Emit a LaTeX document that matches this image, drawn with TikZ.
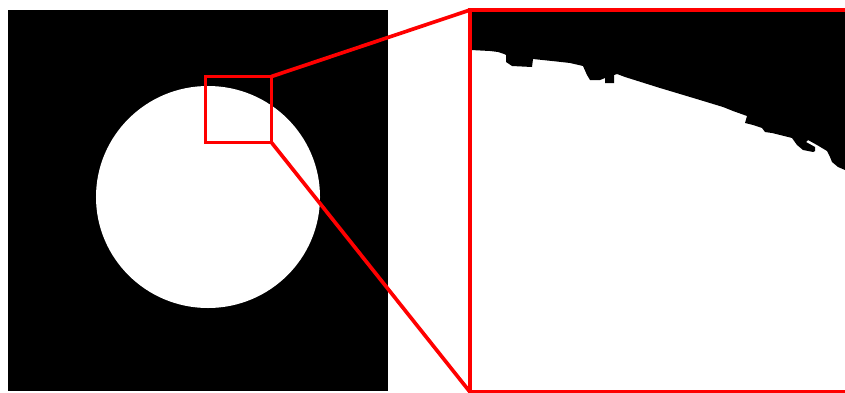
\documentclass[tikz,border=0pt]{standalone}
\usetikzlibrary{positioning,calc}
\definecolor{zoomred}{HTML}{FF0000}
\definecolor{ink}{HTML}{000000}
\tikzset{
  zoomline/.style={draw=zoomred,line width=0.11cm},
  framebox/.style={zoomline,inner sep=0pt,outer sep=0pt}
}

\begin{document}
\begin{tikzpicture}[x=0.03cm,y=-0.03cm]
  \useasboundingbox (0,0) rectangle (845,392);

  \fill[ink] (8,10) rectangle (388,391);
  \fill[white] (208,197) ellipse [x radius=3.36cm,y radius=3.33cm];

  \fill[ink] (852,10) -- (471,10) -- (471,50) -- (490,51) -- (498,52)
    -- (504,54) -- (506,55) -- (506,62) -- (512,66) -- (532,67) -- (533,59)
    -- (552,61) -- (570,63) -- (583,66) -- (587,75) -- (590,80) -- (600,80)
    -- (605,78) -- (605,83) -- (614,83) -- (614,75) -- (617,74) -- (625,77)
    -- (660,88) -- (700,100) -- (723,107) -- (733,111) -- (747,116)
    -- (745,123) -- (753,125) -- (762,128) -- (765,132) -- (772,133)
    -- (780,135) -- (792,138) -- (797,145) -- (803,150) -- (813,152)
    -- (815,151) -- (815,147) -- (806,142) -- (808,140) -- (817,145)
    -- (827,151) -- (830,157) -- (832,162) -- (838,167) -- (845,170)
    -- (852,170) -- cycle;

  \node[framebox,minimum width=1.98cm,minimum height=1.98cm] (zoombox)
       at (238.5,109.5) {};
  \node[framebox,minimum width=11.46cm,minimum height=11.46cm] (detail)
       at (661,201) {};

  \draw[zoomline] (zoombox.north east) -- (detail.north west);
  \draw[zoomline] (zoombox.south east) -- (detail.south west);
\end{tikzpicture}
\end{document}
